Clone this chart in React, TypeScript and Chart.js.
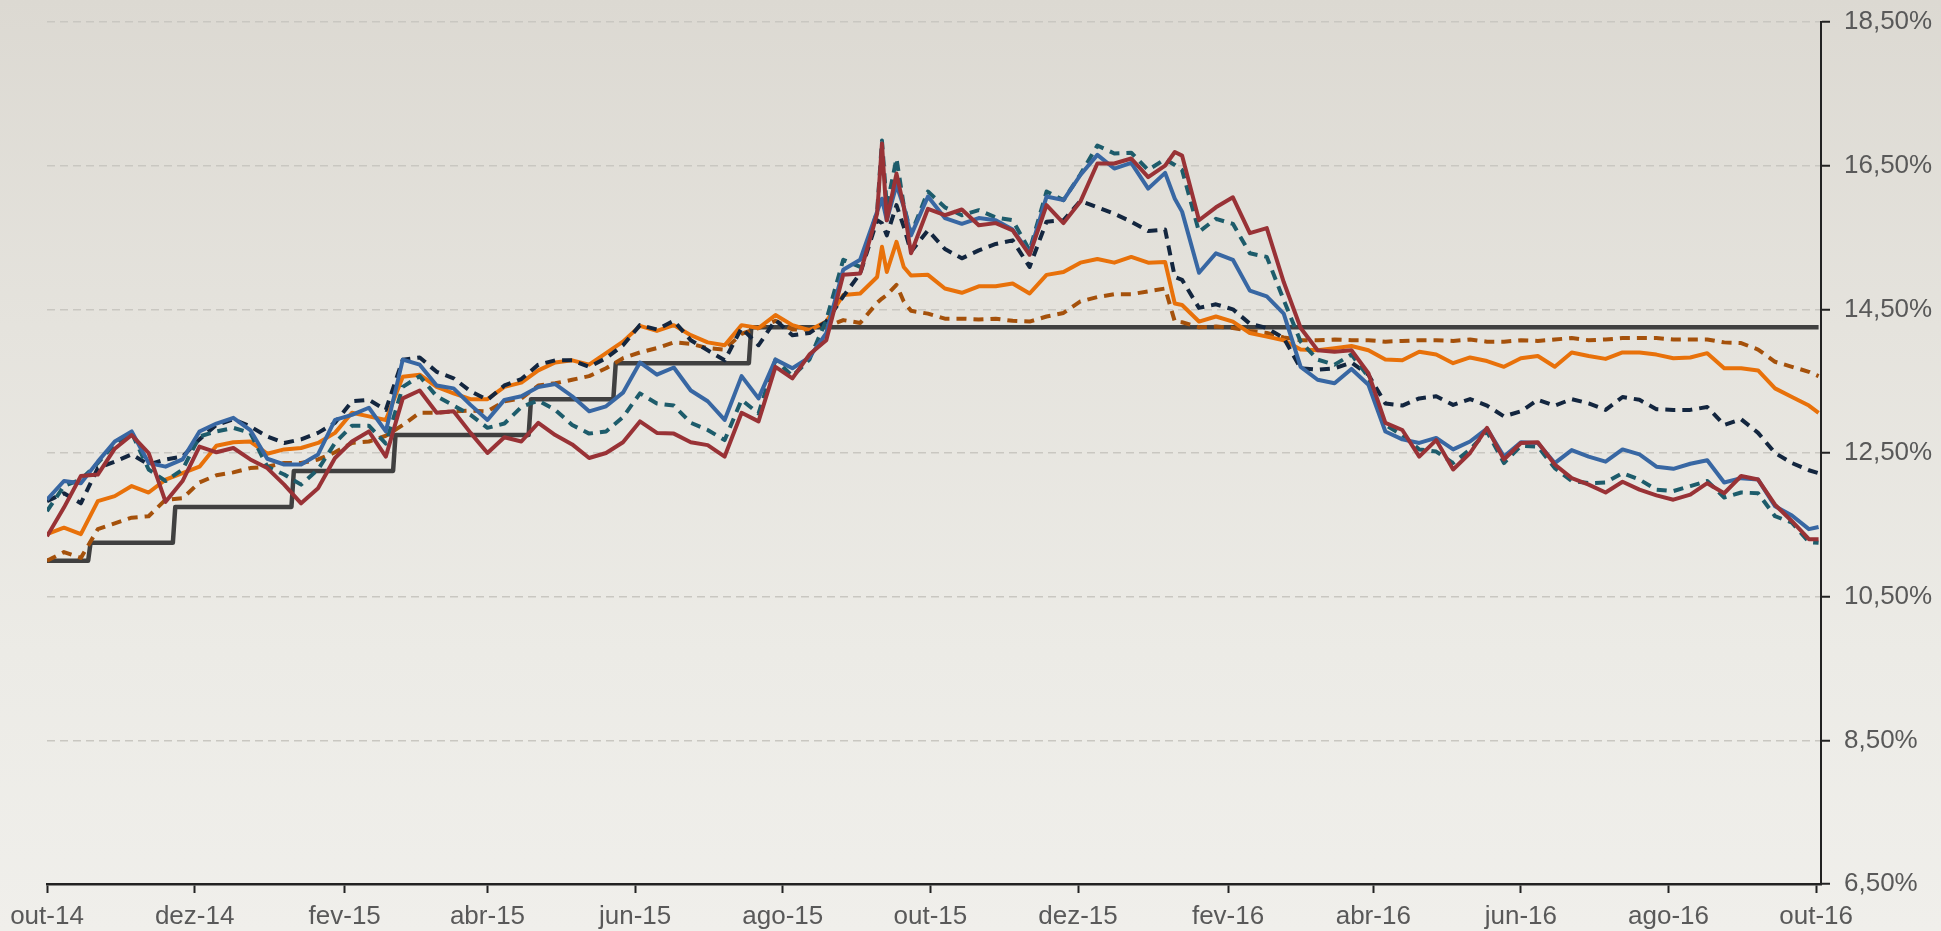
import { useEffect, useRef } from 'react';
import { Chart, registerables } from 'chart.js';

Chart.register(...registerables);

// x = days since 1 Oct 2014
const days = [
  0, 7, 14, 21, 28, 35, 42, 49, 56, 63, 70, 77, 84, 91, 98, 105, 112, 119,
  126, 133, 140, 147, 154, 161, 168, 175, 182, 189, 196, 203, 210, 217, 224, 231, 238,
  245, 252, 259, 266, 273, 280, 287, 294, 301, 308, 315, 322, 329, 336,
  343, 345, 347, 351, 354,
  357, 364, 371, 378, 385, 392, 399, 406, 413, 420, 427, 434, 441, 448, 455, 462,
  466,
  469, 476,
  483, 490, 497, 504, 511, 518, 525, 532, 539, 546, 553, 560, 567, 574, 581, 588, 595,
  602, 609, 616, 623, 630, 637, 644, 651, 658, 665, 672, 679, 686, 693, 700, 707, 714, 721, 728,
  732,
];

const selicDays = [0, 17, 18, 52, 53, 101, 102, 143, 144, 199, 200, 234, 235, 290, 291, 732];
const selicValues = [11.0, 11.0, 11.25, 11.25, 11.75, 11.75, 12.25, 12.25, 12.75, 12.75, 13.25, 13.25, 13.75, 13.75, 14.25, 14.25];

const orangeValues = [
  11.37, 11.46, 11.37, 11.83, 11.90, 12.04, 11.95, 12.13, 12.22, 12.31, 12.60, 12.65, 12.66, 12.49, 12.55, 12.57, 12.64, 12.78,
  13.06, 13.01, 12.96, 13.56, 13.59, 13.42, 13.33, 13.25, 13.25, 13.42, 13.48, 13.65, 13.76, 13.79, 13.73, 13.89, 14.05,
  14.27, 14.20, 14.28, 14.14, 14.04, 14.00, 14.28, 14.24, 14.42, 14.28, 14.21, 14.33, 14.70, 14.72,
  14.95, 15.37, 15.02, 15.44, 15.09,
  14.97, 14.98, 14.79, 14.73, 14.82, 14.82, 14.86, 14.72, 14.98, 15.02, 15.15, 15.20, 15.15, 15.23, 15.15, 15.16,
  14.58,
  14.56, 14.33,
  14.40, 14.33, 14.17, 14.12, 14.07, 13.94, 13.93, 13.96, 13.99, 13.93, 13.80, 13.79, 13.91, 13.87, 13.75, 13.83, 13.78,
  13.70, 13.82, 13.85, 13.70, 13.90, 13.85, 13.81, 13.90, 13.90, 13.87, 13.82, 13.83, 13.89, 13.68, 13.68, 13.65, 13.40, 13.28, 13.16,
  13.06,
];

const brownValues = [
  11.00, 11.12, 11.04, 11.44, 11.52, 11.60, 11.62, 11.85, 11.87, 12.09, 12.19, 12.23, 12.29, 12.31, 12.36, 12.36, 12.41, 12.51,
  12.64, 12.66, 12.74, 12.89, 13.06, 13.06, 13.08, 13.09, 13.08, 13.22, 13.26, 13.44, 13.47, 13.52, 13.57, 13.68, 13.82,
  13.90, 13.96, 14.04, 14.02, 13.96, 13.94, 14.16, 14.24, 14.34, 14.22, 14.22, 14.26, 14.35, 14.31,
  14.59, 14.65, 14.70, 14.84, 14.61,
  14.48, 14.44, 14.37, 14.37, 14.36, 14.37, 14.34, 14.33, 14.40, 14.45, 14.61, 14.67, 14.71, 14.71, 14.75, 14.79,
  14.33,
  14.32, 14.25,
  14.26, 14.24, 14.20, 14.17, 14.11, 14.07, 14.07, 14.08, 14.07, 14.07, 14.05, 14.06, 14.07, 14.07, 14.06, 14.08, 14.05,
  14.05, 14.07, 14.06, 14.08, 14.10, 14.07, 14.08, 14.10, 14.10, 14.10, 14.08, 14.08, 14.08, 14.04, 14.03, 13.94, 13.77, 13.70, 13.63,
  13.57,
];

const navyValues = [
  11.83, 11.94, 11.80, 12.29, 12.38, 12.48, 12.34, 12.41, 12.45, 12.69, 12.89, 12.97, 12.87, 12.73, 12.64, 12.69, 12.78, 12.92,
  13.22, 13.24, 13.10, 13.80, 13.83, 13.63, 13.54, 13.36, 13.24, 13.44, 13.53, 13.73, 13.79, 13.79, 13.70, 13.82, 14.00,
  14.28, 14.22, 14.34, 14.07, 13.93, 13.79, 14.24, 14.00, 14.35, 14.14, 14.17, 14.33, 14.68, 15.00,
  15.74, 15.70, 15.53, 15.95, 15.65,
  15.30, 15.60, 15.34, 15.21, 15.32, 15.41, 15.46, 15.09, 15.72, 15.74, 16.01, 15.92, 15.83, 15.72, 15.59, 15.61,
  14.95,
  14.91, 14.52,
  14.57, 14.50, 14.30, 14.24, 14.10, 13.68, 13.66, 13.68, 13.76, 13.59, 13.19, 13.16, 13.26, 13.29, 13.17, 13.25, 13.16,
  13.01, 13.08, 13.24, 13.16, 13.25, 13.19, 13.10, 13.28, 13.24, 13.11, 13.10, 13.10, 13.14, 12.89, 12.97, 12.78, 12.50, 12.36, 12.26,
  12.22,
];

const tealValues = [
  11.69, 12.04, 12.13, 12.36, 12.63, 12.78, 12.27, 12.11, 12.27, 12.73, 12.80, 12.85, 12.78, 12.31, 12.20, 12.06, 12.27, 12.64,
  12.88, 12.88, 12.63, 13.42, 13.57, 13.29, 13.16, 13.03, 12.85, 12.91, 13.14, 13.23, 13.10, 12.89, 12.77, 12.80, 13.00,
  13.33, 13.19, 13.16, 12.92, 12.82, 12.68, 13.24, 13.05, 13.80, 13.57, 13.80, 14.35, 15.19, 15.09,
  15.86, 16.85, 15.93, 16.60, 15.95,
  15.55, 16.14, 15.92, 15.81, 15.88, 15.78, 15.74, 15.32, 16.14, 16.02, 16.38, 16.78, 16.67, 16.68, 16.44, 16.59,
  16.51,
  16.44, 15.58,
  15.76, 15.69, 15.28, 15.23, 14.63, 14.05, 13.80, 13.73, 13.87, 13.56, 12.89, 12.75, 12.55, 12.52, 12.36, 12.55, 12.80,
  12.36, 12.60, 12.59, 12.29, 12.11, 12.08, 12.09, 12.22, 12.13, 11.99, 11.97, 12.04, 12.11, 11.88, 11.95, 11.94, 11.62, 11.53, 11.26,
  11.25,
];

const blueValues = [
  11.85, 12.11, 12.08, 12.38, 12.66, 12.80, 12.36, 12.31, 12.41, 12.80, 12.91, 12.99, 12.82, 12.42, 12.34, 12.34, 12.48, 12.96,
  13.03, 13.13, 12.80, 13.80, 13.73, 13.44, 13.40, 13.17, 12.96, 13.24, 13.29, 13.42, 13.46, 13.29, 13.08, 13.15, 13.34,
  13.76, 13.59, 13.69, 13.37, 13.22, 12.96, 13.57, 13.26, 13.80, 13.68, 13.83, 14.17, 15.05, 15.19,
  15.86, 16.04, 15.74, 16.23, 15.93,
  15.53, 16.07, 15.77, 15.69, 15.77, 15.74, 15.61, 15.28, 16.07, 16.02, 16.37, 16.65, 16.46, 16.54, 16.18, 16.40,
  16.04,
  15.86, 15.01,
  15.28, 15.19, 14.76, 14.68, 14.44, 13.70, 13.52, 13.47, 13.67, 13.45, 12.80, 12.69, 12.64, 12.71, 12.55, 12.66, 12.84,
  12.45, 12.65, 12.64, 12.36, 12.54, 12.45, 12.38, 12.55, 12.48, 12.31, 12.28, 12.35, 12.40, 12.09, 12.15, 12.13, 11.76, 11.63, 11.44,
  11.47,
];

const redValues = [
  11.34, 11.74, 12.18, 12.20, 12.56, 12.75, 12.50, 11.82, 12.11, 12.59, 12.51, 12.57, 12.41, 12.29, 12.06, 11.80, 12.01, 12.43,
  12.66, 12.80, 12.45, 13.26, 13.37, 13.06, 13.08, 12.78, 12.50, 12.72, 12.66, 12.92, 12.75, 12.62, 12.43, 12.50, 12.65,
  12.94, 12.78, 12.77, 12.65, 12.61, 12.45, 13.06, 12.94, 13.70, 13.54, 13.87, 14.07, 14.98, 15.00,
  15.83, 16.81, 15.74, 16.39, 15.93,
  15.28, 15.90, 15.81, 15.89, 15.67, 15.70, 15.60, 15.26, 15.95, 15.70, 16.00, 16.53, 16.53, 16.60, 16.34, 16.50,
  16.69,
  16.64, 15.74,
  15.92, 16.06, 15.56, 15.63, 14.88, 14.24, 13.93, 13.91, 13.93, 13.61, 12.92, 12.82, 12.45, 12.68, 12.27, 12.50, 12.85,
  12.41, 12.64, 12.65, 12.34, 12.15, 12.06, 11.95, 12.10, 11.99, 11.91, 11.85, 11.92, 12.08, 11.94, 12.18, 12.13, 11.78, 11.55, 11.30,
  11.30,
];

const tickDays = [0, 61, 123, 182, 243, 304, 365, 426, 488, 548, 609, 670, 731];
const tickLabels = ['out-14', 'dez-14', 'fev-15', 'abr-15', 'jun-15', 'ago-15', 'out-15', 'dez-15', 'fev-16', 'abr-16', 'jun-16', 'ago-16', 'out-16'];
const yTicks = [6.5, 8.5, 10.5, 12.5, 14.5, 16.5, 18.5];

const FONT = '"Liberation Sans", Arial, sans-serif';

export default function App() {
  const ref = useRef<HTMLCanvasElement>(null);

  useEffect(() => {
    if (!ref.current) return;
    const pts = (xs: number[], ys: number[]) => xs.map((x, i) => ({ x, y: ys[i] }));
    const solid = (label: string, color: string, values: number[]) => ({
      label,
      data: pts(days, values),
      borderColor: color,
      borderWidth: 4,
      pointRadius: 0,
      fill: false,
    });
    const dashed = (label: string, color: string, values: number[]) => ({
      ...solid(label, color, values),
      borderDash: [10, 7],
    });

    const chart = new Chart(ref.current, {
      type: 'line',
      data: {
        datasets: [
          solid('red', '#993236', redValues),
          solid('blue', '#3867a3', blueValues),
          dashed('teal', '#1d5c6b', tealValues),
          dashed('navy', '#13263f', navyValues),
          solid('orange', '#e8710a', orangeValues),
          dashed('brown', '#a5510b', brownValues),
          {
            label: 'selic',
            data: pts(selicDays, selicValues),
            borderColor: '#404040',
            borderWidth: 4.5,
            pointRadius: 0,
            fill: false,
          },
        ] as any,
      },
      options: {
        animation: false,
        responsive: false,
        devicePixelRatio: 1,
        layout: { padding: { left: 47, top: 22, right: 0, bottom: 0 } },
        plugins: { legend: { display: false }, tooltip: { enabled: false } },
        elements: { point: { radius: 0 }, line: { tension: 0, borderJoinStyle: 'round' } },
        scales: {
          x: {
            type: 'linear',
            min: 0,
            max: 733,
            afterBuildTicks: (s: any) => {
              s.ticks = tickDays.map((v) => ({ value: v }));
            },
            afterFit: (s: any) => {
              s.height = 47;
              s.paddingLeft = 10;
              s.paddingRight = 10;
            },
            ticks: {
              autoSkip: false,
              maxRotation: 0,
              padding: 8,
              color: '#595959',
              font: { family: FONT, size: 26 },
              callback: (v: any) => {
                const i = tickDays.indexOf(Number(v));
                return i >= 0 ? tickLabels[i] : '';
              },
            },
            grid: {
              drawOnChartArea: false,
              drawTicks: true,
              tickLength: 9,
              tickColor: '#222222',
              tickWidth: 2,
            },
            border: { color: '#222222', width: 2.5 },
          },
          y: {
            position: 'right',
            min: 6.5,
            max: 18.5,
            afterBuildTicks: (s: any) => {
              s.ticks = yTicks.map((v) => ({ value: v }));
            },
            afterFit: (s: any) => {
              s.width = 120;
              s.paddingTop = 10;
              s.paddingBottom = 10;
            },
            ticks: {
              padding: 14,
              color: '#595959',
              font: { family: FONT, size: 26 },
              callback: (v: any) => Number(v).toFixed(2).replace('.', ',') + '%',
            },
            grid: {
              color: '#c9c7c1',
              lineWidth: 1.5,
              tickLength: 9,
              tickColor: '#222222',
              tickWidth: 2,
              tickBorderDash: [],
            },
            border: { color: '#222222', width: 2, dash: [8, 5] },
          },
        },
      } as any,
    });
    return () => chart.destroy();
  }, []);

  return (
    <div
      style={{
        position: 'fixed',
        left: 0,
        top: 0,
        width: 1941,
        height: 931,
        background: 'linear-gradient(180deg, #dcd9d2 0%, #e5e3dd 35%, #ecebe6 70%, #f0efeb 100%)',
      }}
    >
      <canvas ref={ref} width={1941} height={931} style={{ display: 'block' }} />
    </div>
  );
}
